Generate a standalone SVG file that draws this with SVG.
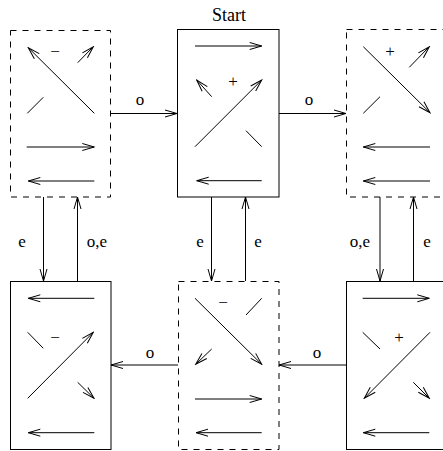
<svg xmlns="http://www.w3.org/2000/svg" width="443" height="451" viewBox="0 0 443 451">
<style>
.box{fill:#fff;stroke:#000;stroke-width:1}
.dash{stroke-dasharray:6,6}
.ln{fill:none;stroke:#000;stroke-width:1}
.ar{fill:none;stroke:#000;stroke-width:1;marker-end:url(#ah)}
.t{font-family:'Liberation Serif','Times New Roman',serif;font-size:17px;fill:#000;text-anchor:middle}
</style>
<defs>
<marker id="ah" markerUnits="userSpaceOnUse" markerWidth="14" markerHeight="10" viewBox="0 0 14 10" refX="13" refY="5" orient="auto">
<path d="M1,1.5 L13,5 L1,8.5" fill="none" stroke="#000" stroke-width="1"/>
</marker>
</defs>
<rect width="443" height="451" fill="#fff"/>

<g id="connectors">
<line class="ar" x1="111" y1="113.5" x2="177" y2="113.5"/>
<text class="t" x="140" y="105">o</text>
<line class="ar" x1="279" y1="113.5" x2="346" y2="113.5"/>
<text class="t" x="309" y="105">o</text>
<line class="ar" x1="43.5" y1="197" x2="43.5" y2="281"/>
<text class="t" x="22" y="247">e</text>
<line class="ar" x1="77.5" y1="281" x2="77.5" y2="197"/>
<text class="t" x="97" y="247">o,e</text>
<line class="ar" x1="211.5" y1="197" x2="211.5" y2="281"/>
<text class="t" x="200" y="247">e</text>
<line class="ar" x1="245.5" y1="281" x2="245.5" y2="197"/>
<text class="t" x="258" y="247">e</text>
<line class="ar" x1="380" y1="197" x2="380" y2="281"/>
<text class="t" x="360" y="247">o,e</text>
<line class="ar" x1="413.5" y1="281" x2="413.5" y2="197"/>
<text class="t" x="427" y="247">e</text>
<line class="ar" x1="346" y1="365" x2="279" y2="365"/>
<text class="t" x="317" y="358">o</text>
<line class="ar" x1="178" y1="365" x2="111" y2="365"/>
<text class="t" x="150" y="358">o</text>
</g>

<g id="n1">
<rect class="box dash" x="10.5" y="30.5" width="100" height="166.5"/>
<line class="ar" x1="94.3" y1="113.3" x2="28.3" y2="47.7"/>
<text class="t" x="55" y="57">−</text>
<line class="ar" x1="77.7" y1="62.7" x2="93.3" y2="46.7"/>
<line class="ln" x1="43.3" y1="97.3" x2="27.3" y2="113.3"/>
<line class="ar" x1="26.7" y1="147" x2="94.3" y2="147"/>
<line class="ar" x1="94.3" y1="181" x2="28.3" y2="181"/>
</g>

<g id="n2">
<text class="t" x="229" y="21" style="font-size:18px">Start</text>
<rect class="box" x="177.5" y="29.5" width="101.5" height="167.5"/>
<line class="ar" x1="195" y1="46" x2="261.7" y2="46"/>
<line class="ar" x1="211.7" y1="96.7" x2="196.7" y2="80"/>
<text class="t" x="233" y="87">+</text>
<line class="ar" x1="195" y1="146.7" x2="261.7" y2="80"/>
<line class="ln" x1="246" y1="130.7" x2="261.7" y2="146.7"/>
<line class="ar" x1="261.7" y1="180.7" x2="196.7" y2="180.7"/>
</g>

<g id="n3">
<rect class="box dash" x="346.5" y="29.5" width="101" height="167.5"/>
<line class="ar" x1="363.3" y1="46.7" x2="430" y2="112.7"/>
<text class="t" x="390" y="57">+</text>
<line class="ar" x1="409.3" y1="67.3" x2="429.3" y2="46.7"/>
<line class="ln" x1="380" y1="96.7" x2="363.3" y2="113.3"/>
<line class="ar" x1="430" y1="147" x2="363.3" y2="147"/>
<line class="ar" x1="430" y1="181" x2="363.3" y2="181"/>
</g>

<g id="n4">
<rect class="box" x="10.5" y="281.5" width="100.5" height="168"/>
<line class="ar" x1="94.3" y1="298.3" x2="28.3" y2="298.3"/>
<line class="ln" x1="27.7" y1="332.3" x2="43.3" y2="348.3"/>
<text class="t" x="55" y="343">−</text>
<line class="ar" x1="27.7" y1="398.3" x2="93.3" y2="332.3"/>
<line class="ar" x1="77.7" y1="382.3" x2="94" y2="398.3"/>
<line class="ar" x1="94.3" y1="432.7" x2="28.3" y2="432.7"/>
</g>

<g id="n5">
<rect class="box dash" x="178.5" y="281.5" width="100.5" height="168"/>
<line class="ar" x1="195" y1="298.3" x2="261.7" y2="364.3"/>
<text class="t" x="223" y="308">−</text>
<line class="ln" x1="261.7" y1="298.3" x2="246" y2="315"/>
<line class="ar" x1="211.7" y1="349" x2="195.7" y2="364.3"/>
<line class="ar" x1="195" y1="399" x2="261.7" y2="399"/>
<line class="ar" x1="261.7" y1="432.7" x2="196" y2="432.7"/>
</g>

<g id="n6">
<rect class="box" x="346.5" y="281.5" width="101" height="168"/>
<line class="ar" x1="362.7" y1="298.3" x2="429.3" y2="298.3"/>
<line class="ln" x1="362.7" y1="332.3" x2="380" y2="349"/>
<text class="t" x="399" y="343">+</text>
<line class="ar" x1="430" y1="332.3" x2="364.3" y2="398.3"/>
<line class="ar" x1="413.3" y1="382.3" x2="429.3" y2="398.3"/>
<line class="ar" x1="429.3" y1="432.7" x2="363.3" y2="432.7"/>
</g>
</svg>
